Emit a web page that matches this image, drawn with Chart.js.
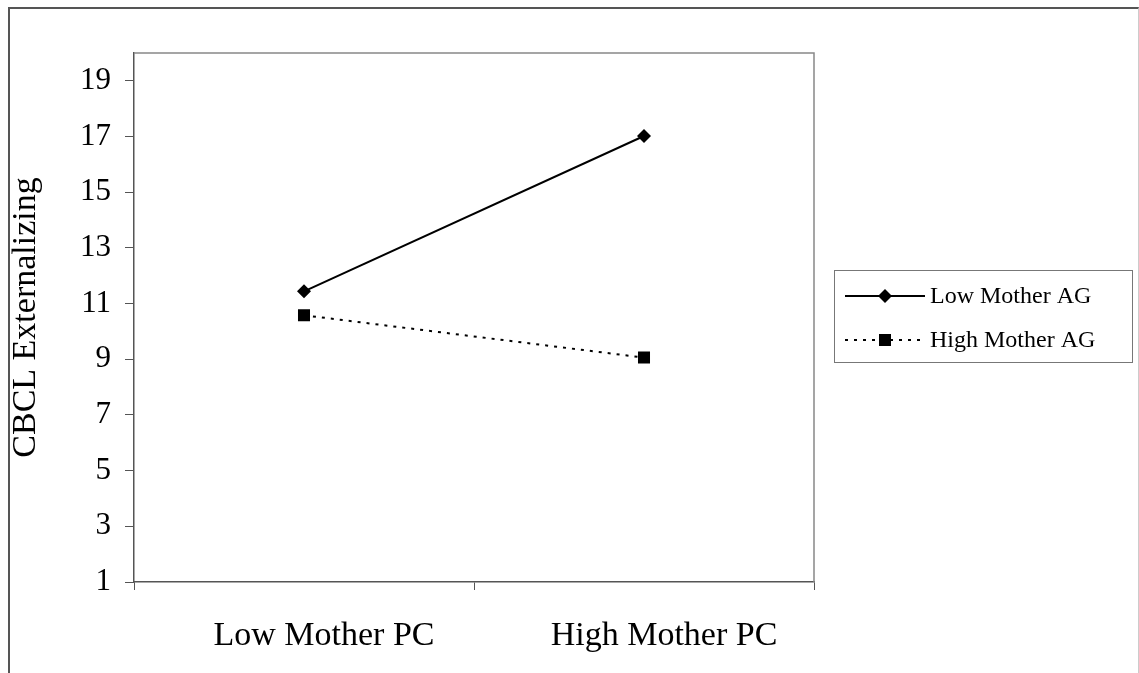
<!DOCTYPE html>
<html>
<head>
<meta charset="utf-8">
<script src="https://cdn.jsdelivr.net/npm/chart.js@4/dist/chart.umd.min.js"></script>
<style>
  html, body { margin: 0; padding: 0; background: #fff; overflow: hidden; }
  #frame {
    position: absolute; left: 8px; top: 7px; width: 1128px; height: 700px;
    border-left: 2px solid #555; border-top: 2px solid #555; border-right: 1px solid #ccc;
  }
  #wrap { position: absolute; left: 0; top: 0; width: 1139px; height: 673px; }
</style>
</head>
<body>
<div id="frame"></div>
<div id="wrap"><canvas id="chart" width="1139" height="673"></canvas></div>
<script>
// Interaction plot: CBCL externalizing by mother PC and AG
const categories = ['Low Mother PC', 'High Mother PC'];
const lowAG = [11.44, 17.02];
const highAG = [10.58, 9.06];
const yTicks = [1, 3, 5, 7, 9, 11, 13, 15, 17, 19];

const FONT = '"Liberation Serif", "Times New Roman", serif';

// plot area border + legend box drawn by hand (Excel style)
const framePlugin = {
    id: 'frame',
    afterDraw(chart) {
        const { ctx, chartArea: a } = chart;
        ctx.save();
        ctx.strokeStyle = '#888';
        ctx.lineWidth = 1.5;
        ctx.beginPath();
        ctx.moveTo(a.left, a.top);
        ctx.lineTo(a.right, a.top);
        ctx.lineTo(a.right, a.bottom);
        ctx.stroke();

        // legend
        const bx = 834, by = 270, bw = 298, bh = 92;
        ctx.strokeStyle = '#777';
        ctx.lineWidth = 1;
        ctx.strokeRect(bx + 0.5, by + 0.5, bw, bh);
        ctx.font = '24px ' + FONT;
        ctx.textBaseline = 'middle';
        chart.data.datasets.forEach((ds, i) => {
            const y = by + 26 + i * 44;
            ctx.strokeStyle = '#000';
            ctx.lineWidth = ds.borderWidth;
            ctx.setLineDash(ds.borderDash || []);
            ctx.beginPath();
            ctx.moveTo(845, y);
            ctx.lineTo(925, y);
            ctx.stroke();
            ctx.setLineDash([]);
            ctx.fillStyle = '#000';
            Chart.helpers.drawPoint(ctx, {
                pointStyle: ds.pointStyle, radius: ds.pointRadius, borderWidth: 0
            }, 885, y);
            ctx.fillStyle = '#000';
            ctx.fillText(ds.label, 930, y + 1);
        });
        ctx.restore();
    }
};

new Chart(document.getElementById('chart'), {
    type: 'line',
    data: {
        labels: categories,
        datasets: [
            {
                label: 'Low Mother AG',
                data: lowAG,
                borderColor: '#000',
                backgroundColor: '#000',
                borderWidth: 2,
                pointStyle: 'rectRot',
                pointRadius: 7,
                pointBorderWidth: 0
            },
            {
                label: 'High Mother AG',
                data: highAG,
                borderColor: '#000',
                backgroundColor: '#000',
                borderWidth: 2,
                borderDash: [3, 6],
                pointStyle: 'rect',
                pointRadius: 8.5,
                pointBorderWidth: 0
            }
        ]
    },
    options: {
        responsive: false,
        animation: false,
        layout: { padding: { left: 0, top: 53, right: 325, bottom: 0 } },
        plugins: {
            legend: { display: false },
            tooltip: { enabled: false }
        },
        scales: {
            x: {
                offset: true,
                grid: { offset: true, drawOnChartArea: false, tickLength: 8, color: '#555', lineWidth: 1 },
                border: { color: '#555', width: 1.5 },
                ticks: { color: '#000', font: { family: FONT, size: 34 }, padding: 26, labelOffset: 20 },
                afterFit(scale) { scale.height = 91; }
            },
            y: {
                min: 1,
                max: 20,
                afterBuildTicks(scale) { scale.ticks = yTicks.map(v => ({ value: v })); },
                grid: { drawOnChartArea: false, tickLength: 9, color: '#555', lineWidth: 1 },
                border: { color: '#555', width: 1.5 },
                ticks: { color: '#000', font: { family: FONT, size: 31 }, padding: 14 },
                title: {
                    display: true,
                    text: 'CBCL Externalizing',
                    color: '#000',
                    font: { family: FONT, size: 34 },
                    padding: { top: 6, bottom: 0 }
                },
                afterFit(scale) { scale.width = 134; }
            }
        }
    },
    plugins: [framePlugin]
});
</script>
</body>
</html>
